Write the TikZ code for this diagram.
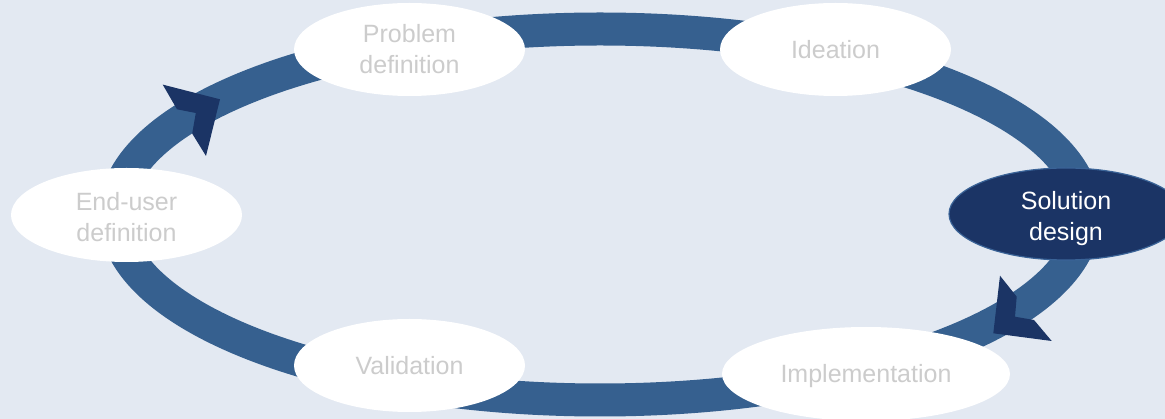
\documentclass[tikz,border=0pt]{standalone}
\usepackage{fontspec}
\setmainfont{Liberation Sans}
\usetikzlibrary{shapes.geometric}
\definecolor{bg}{HTML}{E3E9F2}
\definecolor{ringc}{HTML}{36608F}
\definecolor{navy}{HTML}{1B3465}
\definecolor{navyedge}{HTML}{3A6397}
\definecolor{txtgray}{HTML}{CCCCCC}
\begin{document}
\begin{tikzpicture}[x=1pt,y=-1pt,
 stage/.style={ellipse, fill=white, minimum width=231pt, minimum height=93pt, inner sep=0pt, align=center, font=\fontsize{25}{31}\selectfont, text=txtgray, text height=18pt, text depth=0pt},
 twoline/.style={text height=49pt, text depth=0pt},
 lowtwoline/.style={text height=53pt, text depth=0pt},
 active/.style={fill=navy, draw=navyedge, line width=1.2pt, text=white},
 ringline/.style={draw=ringc, line width=33pt},
 tip/.style={fill=navy}]
\useasboundingbox (0,0) rectangle (1165,419);
\fill[bg] (0,0) rectangle (1165,419);
\clip (0,0) rectangle (1165,419);
\draw[ringline] (600,214.5) ellipse [x radius=485pt, y radius=185.5pt];
\fill[tip] (162.7,84.6) -- (220,99.3) -- (206,156) -- (192.2,133.6) -- (195.8,113) -- (177,109.3) -- cycle;
\fill[tip] (1000,275.7) -- (1016.7,296.7) -- (1015,316.7) -- (1034,320) -- (1051.7,341) -- (993.3,333.3) -- cycle;
\node[stage,twoline] (prob) at (409.5,49.5) {Problem\\definition};
\node[stage] (idea) at (835.5,49.5) {Ideation};
\node[stage,active,lowtwoline,minimum width=234pt,minimum height=92pt] (sol) at (1066,214) {Solution\\design};
\node[stage,lowtwoline,minimum height=94pt] (end) at (126.5,215) {End-user\\definition};
\node[stage] (val) at (409.5,365.5) {Validation};
\node[stage,minimum width=288pt,minimum height=94pt] (impl) at (866,374) {Implementation};
\end{tikzpicture}
\end{document}
